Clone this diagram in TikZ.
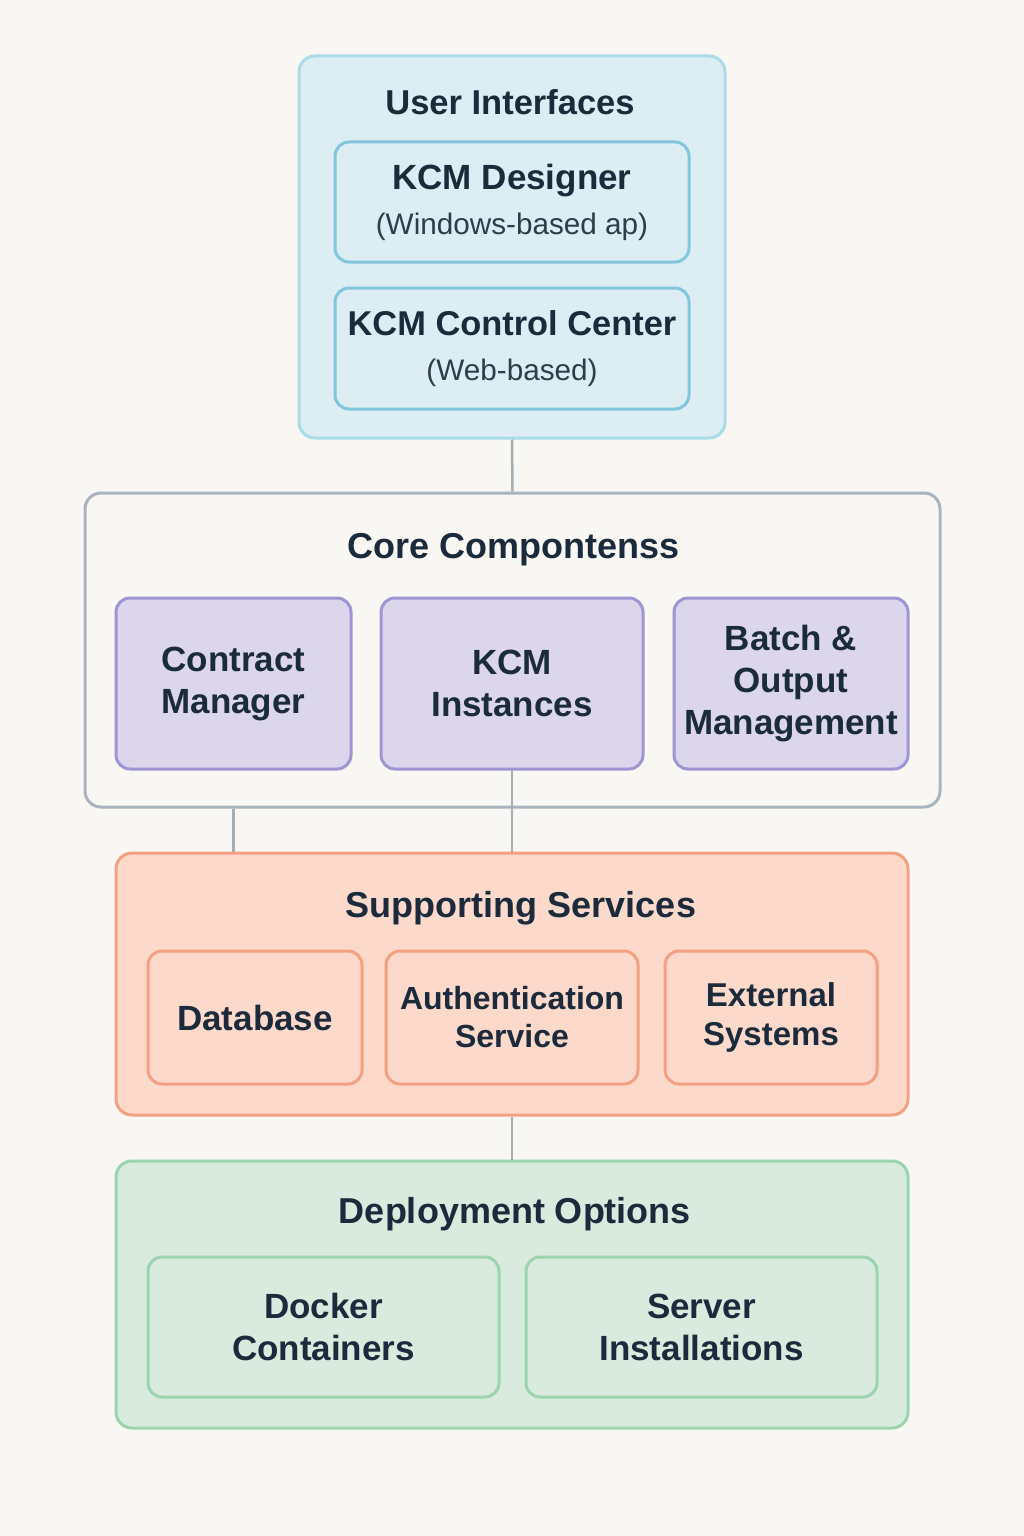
\documentclass[tikz,border=0pt]{standalone}
\usepackage{fontspec}
\setmainfont{Liberation Sans}

\definecolor{paper}{HTML}{F8F7F3}
\definecolor{ink}{HTML}{1B2B3B}
\definecolor{inksoft}{HTML}{2E3D4B}
\definecolor{wire}{HTML}{A2AEBA}
\definecolor{uifill}{HTML}{DCEEF4}
\definecolor{uiline}{HTML}{A9DBE8}
\definecolor{uibox}{HTML}{82C5DD}
\definecolor{coreline}{HTML}{A9B4BE}
\definecolor{purfill}{HTML}{DBD6EB}
\definecolor{purline}{HTML}{A094D3}
\definecolor{supfill}{HTML}{FDD9CB}
\definecolor{supline}{HTML}{F4A083}
\definecolor{depfill}{HTML}{D9EADF}
\definecolor{depline}{HTML}{9DD3AE}

\newcommand{\titlefont}{\bfseries\fontsize{36}{42}\selectfont}
\newcommand{\boxfont}{\bfseries\fontsize{35}{42}\selectfont}

\tikzset{
  group/.style={draw, line width=3pt, rounded corners=16pt, inner sep=0pt},
  part/.style={draw, line width=3pt, rounded corners=14pt, inner sep=0pt,
    align=center, text=ink, font=\boxfont},
  heading/.style={text=ink, font=\titlefont, inner sep=0pt},
  link/.style={draw=wire, line width=2.5pt}
}

\begin{document}
\begin{tikzpicture}[x=1pt,y=-1pt]
  \fill[paper] (0,0) rectangle (1024,1536);
  \useasboundingbox (0,0) rectangle (1024,1536);

  % user interfaces
  \node[group, fill=uifill, draw=uiline, minimum width=426, minimum height=382] (ui) at (512,247) {};
  \node[heading, font=\bfseries\fontsize{34.5}{40}\selectfont] (uititle) at (510,102) {User Interfaces};
  \node[part, fill=uifill, draw=uibox, minimum width=354, minimum height=120] (designer) at (512,202)
    {KCM Designer\\[3pt]{\mdseries\color{inksoft}\fontsize{29.7}{36}\selectfont (Windows-based ap)}};
  \node[part, fill=uifill, draw=uibox, minimum width=354, minimum height=121] (control) at (512,348.5)
    {\fontsize{34.4}{42}\selectfont KCM Control Center\\[3pt]{\mdseries\color{inksoft}\fontsize{29.7}{36}\selectfont (Web-based)}};

  % core components
  \node[group, fill=paper, draw=coreline, minimum width=855, minimum height=314] (core) at (512.5,650) {};
  \node[heading] (coretitle) at (514,550) {Core Compontenss};
  \node[part, fill=purfill, draw=purline, minimum width=235, minimum height=171] (contract) at (233.5,683.5) {Contract\\Manager};
  \node[part, fill=purfill, draw=purline, minimum width=262, minimum height=171] (instances) at (512,683.5) {KCM\\Instances};
  \node[part, fill=purfill, draw=purline, minimum width=234, minimum height=171] (batch) at (791,683.5) {Batch \&\\Output\\Management};

  % supporting services
  \node[group, fill=supfill, draw=supline, minimum width=792, minimum height=262] (support) at (512,984) {};
  \node[heading] (supporttitle) at (521,908) {Supporting Services};
  \node[part, fill=supfill, draw=supline, minimum width=214, minimum height=133] (db) at (255,1017.5) {Database};
  \node[part, fill=supfill, draw=supline, minimum width=252, minimum height=133, font=\bfseries\fontsize{32}{38}\selectfont] (auth) at (512,1017.5) {Authentication\\Service};
  \node[part, fill=supfill, draw=supline, minimum width=212, minimum height=133, font=\bfseries\fontsize{33}{39}\selectfont] (ext) at (771,1017.5) {External\\Systems};

  % deployment options
  \node[group, fill=depfill, draw=depline, minimum width=792, minimum height=267] (deploy) at (512,1294.5) {};
  \node[heading] (deploytitle) at (515,1214) {Deployment Options};
  \node[part, fill=depfill, draw=depline, minimum width=351, minimum height=140] (docker) at (323.5,1327) {Docker\\Containers};
  \node[part, fill=depfill, draw=depline, minimum width=351, minimum height=140] (server) at (701.5,1327) {Server\\Installations};

  % connectors
  \draw[link] (ui.south) -- (core.north);
  \draw[link] (contract.south |- core.south) -- (contract.south |- support.north);
  \draw[link] (instances.south) -- (instances.south |- support.north);
  \draw[link] (support.south) -- (deploy.north);
\end{tikzpicture}
\end{document}
